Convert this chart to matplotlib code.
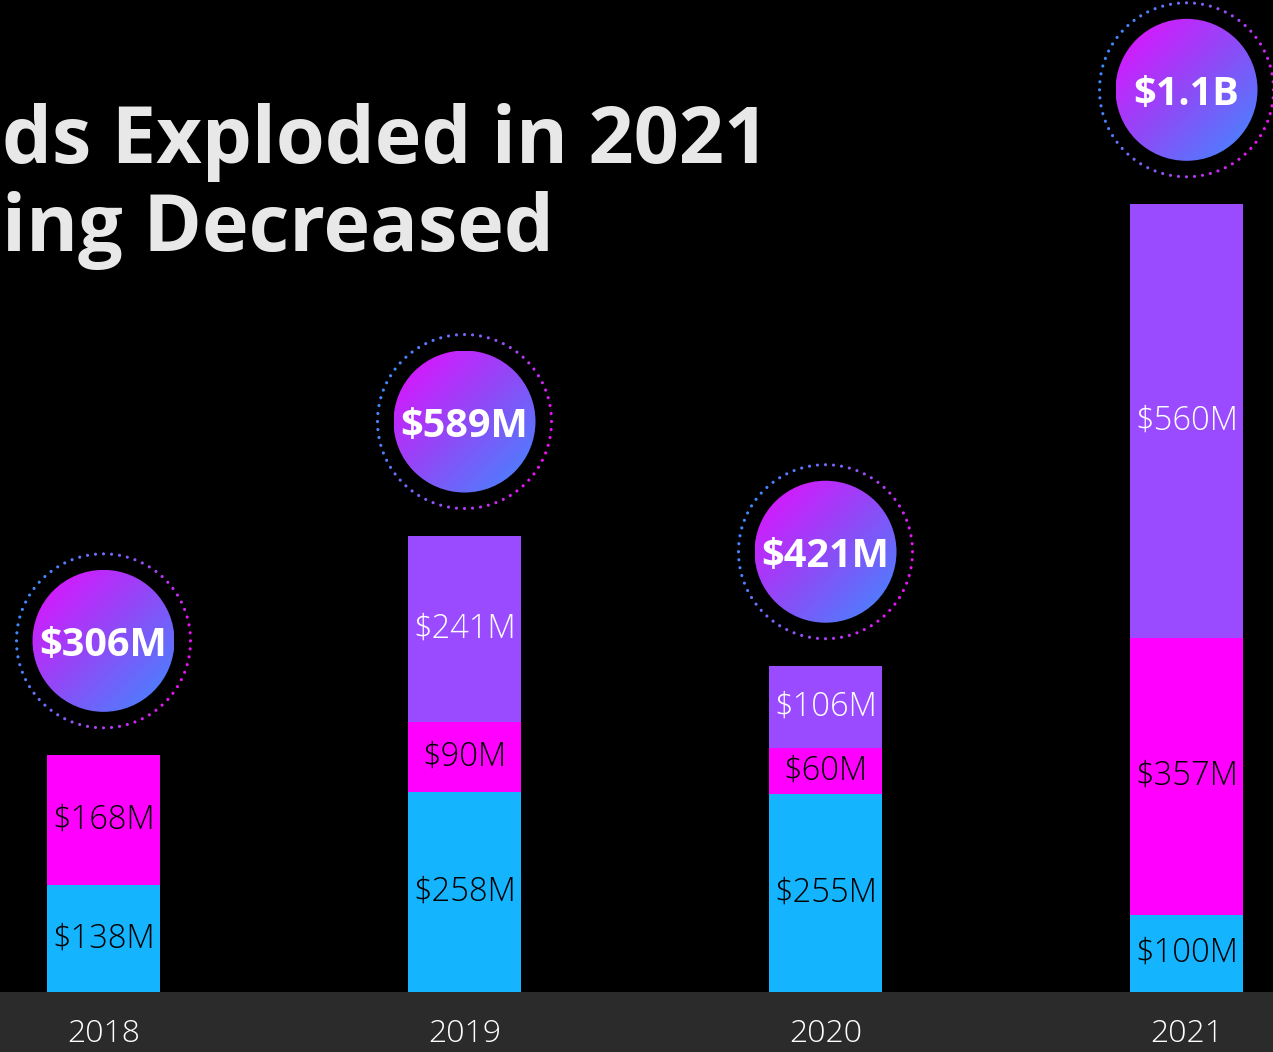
import numpy as np
import matplotlib
matplotlib.use("Agg")
import matplotlib.pyplot as plt
from matplotlib.colors import LinearSegmentedColormap
from matplotlib.patches import Circle, Rectangle

years = ["2018", "2019", "2020", "2021"]
seg_bottom = [138, 258, 255, 100]
seg_middle = [168, 90, 60, 357]
seg_top = [0, 241, 106, 560]
total_labels = ["$306M", "$589M", "$421M", "$1.1B"]
title_lines = ["ds Exploded in 2021", "ing Decreased"]

W, H = 1273, 1052
BAND = 60
CYAN, MAGENTA, PURPLE = "#14b4ff", "#ff00ff", "#9a4aff"
FONT = ["Open Sans", "DejaVu Sans"]

plt.rcParams["font.family"] = FONT

fig = plt.figure(figsize=(W / 100, H / 100), dpi=100, facecolor="black")
fig.patches.append(Rectangle((0, 0), 1, BAND / H, transform=fig.transFigure,
                             facecolor="#2b2b2b", edgecolor="none", zorder=-1))

ax = fig.add_axes([0, BAND / H, 1, 1 - BAND / H])
ax.set_facecolor("none")
x = np.arange(len(years))
b1 = ax.bar(x, seg_bottom, width=0.313, color=CYAN)
b2 = ax.bar(x, seg_middle, width=0.313, bottom=seg_bottom, color=MAGENTA)
mid_top = np.array(seg_bottom) + np.array(seg_middle)
b3 = ax.bar(x, seg_top, width=0.313, bottom=mid_top, color=PURPLE)

lab_kw = dict(label_type="center", fontsize=23.5, fontweight="light")
ax.bar_label(b1, labels=[f"${v}M" for v in seg_bottom], color="black", **lab_kw)
ax.bar_label(b2, labels=[f"${v}M" for v in seg_middle], color="black", **lab_kw)
ax.bar_label(b3, labels=[f"${v}M" if v else "" for v in seg_top], color="white", **lab_kw)

ax.set_xlim(-0.2867, 3.2396)
ax.set_ylim(0, 1280)
ax.set_yticks([])
ax.set_xticks(x, years)
ax.tick_params(axis="x", length=0, pad=19, labelsize=23, labelcolor="white")
for t in ax.get_xticklabels():
    t.set_fontweight("light")
for s in ax.spines.values():
    s.set_visible(False)

# overlay in pixel units for round badges
ov = fig.add_axes([0, 0, 1, 1], zorder=5)
ov.set_xlim(0, W)
ov.set_ylim(0, H)
ov.axis("off")
ov.set_facecolor("none")

fill_cmap = LinearSegmentedColormap.from_list("fill", ["#e80cff", "#8f4af7", "#3c8cff"])
ring_cmap = LinearSegmentedColormap.from_list("ring", ["#3c8cff", "#8f55f5", "#ee10f5"])
R, RING, OFFSET = 71, 87, 114
gy, gx = np.mgrid[0:1:200j, 0:1:200j]
grad = (gx + gy) / 2

totals = mid_top + np.array(seg_top)
to_ov = ov.transData.inverted()
for xi, tot, lab in zip(x, totals, total_labels):
    px, py = to_ov.transform(ax.transData.transform((xi, tot)))
    cy = py + OFFSET
    im = ov.imshow(grad, cmap=fill_cmap, extent=(px - R, px + R, cy - R, cy + R),
                   origin="upper", zorder=6, interpolation="bilinear")
    clip = Circle((px, cy), R, transform=ov.transData)
    im.set_clip_path(clip)
    ang = np.linspace(0, 2 * np.pi, 68, endpoint=False)
    cval = (np.cos(ang + 0.35) + 1) / 2
    ov.scatter(px + RING * np.cos(ang), cy + RING * np.sin(ang), s=5,
               c=cval, cmap=ring_cmap, linewidths=0, zorder=6)
    ov.text(px, cy, lab, color="white", fontsize=28.5, fontweight="bold",
            ha="center", va="center_baseline", zorder=7)

ov.set_xlim(0, W)
ov.set_ylim(0, H)
ov.set_aspect("auto")

for i, line in enumerate(title_lines):
    ov.text(2, H - 163 - i * 88, line, color="#e8e8e8", fontsize=57,
            fontweight="bold", ha="left", va="baseline", zorder=7)

fig.savefig("out.png", dpi=100, facecolor="black")
